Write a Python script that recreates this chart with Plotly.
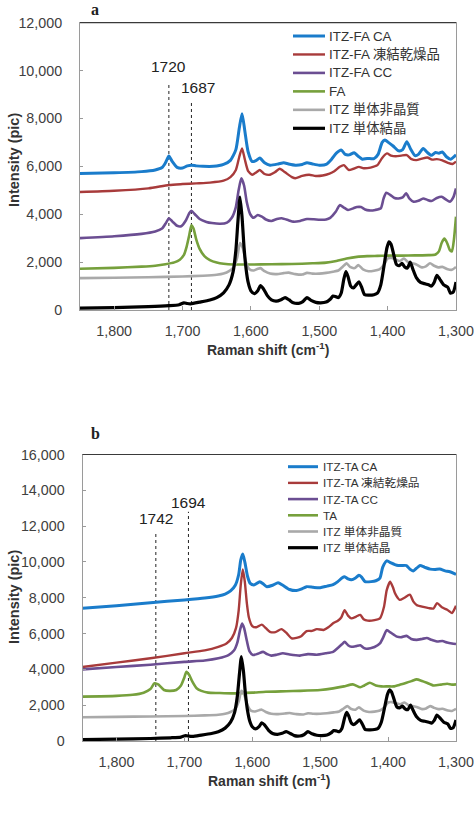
import plotly.graph_objects as go

# ---------------- Panel a data (ITZ-FA) ----------------
fa_ca_x = [1850,1800,1760,1740,1730,1725,1720,1715,1708,1700,1693,1687,1680,1670,1655,1640,1630,1622,1617,1613,
           1609,1604,1598,1592,1587,1580,1572,1560,1552,1545,1535,1525,1518,1510,1500,1490,1482,1475,1468,1462,
           1456,1449,1443,1437,1430,1420,1414,1408,1404,1398,1392,1384,1378,1372,1366,1360,1355,1348,1342,1336,
           1330,1325,1320,1314,1308,1300]
fa_ca_y = [5700,5730,5780,5850,5950,6150,6430,6200,5960,5930,6020,6050,6020,6000,6000,6080,6250,6700,7600,8200,
           7500,6600,6200,6250,6350,6150,6050,6100,6150,6100,6050,6080,6150,6100,6050,6080,6300,6550,6680,6500,
           6480,6570,6420,6300,6330,6320,6500,7000,7100,6980,6850,6650,6700,7030,6700,6450,6500,6750,6580,6460,
           6580,6550,6600,6400,6300,6480]

fa_fd_x = [1850,1800,1750,1720,1700,1680,1660,1640,1630,1622,1617,1613,1609,1604,1598,1592,1587,1580,1572,1565,
           1558,1550,1540,1535,1525,1515,1505,1495,1485,1478,1470,1464,1457,1450,1442,1435,1425,1415,1408,1401,
           1395,1388,1380,1372,1365,1358,1350,1342,1335,1328,1320,1312,1305,1300]
fa_fd_y = [4930,4980,5080,5220,5260,5290,5320,5400,5550,5850,6400,6750,6300,5800,5650,5750,5850,5680,5650,5750,
           5900,5750,5550,5500,5600,5650,5600,5620,5700,5800,5980,6050,5850,5900,5980,5920,5950,6050,6350,6540,
           6450,6420,6450,6470,6300,6260,6320,6370,6280,6300,6250,6150,6100,6200]

fa_cc_x = [1850,1800,1760,1740,1730,1724,1720,1715,1708,1702,1695,1690,1687,1682,1675,1665,1657,1645,1635,1628,
           1622,1618,1614,1610,1606,1601,1596,1590,1584,1578,1570,1562,1555,1545,1538,1528,1518,1508,1499,1490,
           1484,1476,1470,1464,1458,1450,1445,1439,1433,1427,1418,1410,1406,1402,1396,1390,1384,1378,1373,1368,
           1362,1355,1348,1342,1336,1328,1321,1315,1309,1304,1300]
fa_cc_y = [3000,3080,3180,3280,3400,3650,3830,3700,3520,3500,3750,4050,4140,4000,3800,3680,3630,3600,3650,3850,
           4300,5000,5500,5200,4500,4000,3850,3970,3900,3780,3720,3800,3830,3750,3690,3720,3800,3790,3770,3780,
           3850,4100,4380,4280,4180,4250,4300,4300,4200,4160,4180,4250,4650,4900,4800,4680,4660,4700,4870,4650,
           4520,4560,4660,4600,4550,4680,4730,4620,4520,4700,5080]

fa_x = [1850,1800,1760,1740,1725,1712,1704,1698,1694,1690,1687,1684,1680,1675,1668,1660,1650,1640,1625,1600,
        1570,1540,1510,1490,1475,1460,1445,1430,1415,1400,1380,1360,1340,1330,1325,1321,1317,1313,1309,1306,
        1303,1300]
fa_y = [1720,1760,1810,1850,1910,1990,2100,2300,2650,3150,3540,3400,2950,2550,2250,2080,1980,1930,1900,1900,
        1910,1920,1950,1980,2050,2150,2220,2250,2260,2270,2270,2280,2290,2320,2450,2800,2980,2800,2500,2450,
        2950,3900]

# ---------------- ITZ reference spectra (shared by both panels) ----------------
itz_am_x = [1850,1800,1750,1700,1670,1650,1640,1632,1625,1620,1616,1612,1607,1602,1596,1590,1586,1580,1572,1562,
            1552,1545,1535,1525,1518,1510,1500,1490,1480,1472,1466,1460,1455,1448,1443,1436,1428,1420,1412,1405,
            1400,1394,1388,1382,1376,1370,1364,1358,1350,1344,1338,1332,1326,1320,1312,1306,1300]
itz_am_y = [1330,1350,1370,1400,1430,1470,1520,1620,1800,2200,2800,2600,2000,1700,1650,1720,1750,1620,1520,1500,
            1540,1560,1500,1480,1550,1520,1520,1550,1600,1650,1800,1950,1800,1750,1880,1700,1620,1640,1700,1900,
            2150,2170,2100,2050,2150,2000,1950,1900,1780,1820,1950,1850,1780,1800,1700,1680,1800]

itz_cr_x = [1850,1800,1750,1720,1705,1698,1693,1688,1675,1660,1650,1640,1632,1626,1622,1619,1616,1613,1610,1607,
            1604,1600,1595,1590,1586,1582,1576,1570,1563,1556,1550,1544,1538,1530,1524,1518,1512,1505,1498,1490,
            1484,1480,1476,1472,1468,1464,1461,1458,1454,1450,1446,1442,1438,1434,1428,1420,1415,1410,1405,1401,
            1398,1395,1391,1387,1383,1379,1375,1371,1367,1363,1358,1352,1346,1340,1336,1332,1328,1324,1318,1312,
            1308,1304,1300]
itz_cr_y = [80,100,140,180,220,300,270,260,330,420,520,720,1050,1600,2500,3700,4720,3900,2600,1700,
            1150,800,680,800,1020,900,600,420,370,430,520,420,300,280,350,520,400,320,300,330,
            450,580,560,520,700,1300,1600,1400,1000,920,1050,1180,950,650,620,640,700,1050,1900,2600,
            2850,2750,2300,1900,1850,1950,1800,1750,2000,1700,1350,1150,1100,1050,1000,1150,1450,1300,1050,950,
            700,750,1170]

# ---------------- Panel b data (ITZ-TA) ----------------
ta_ca_x = [1850,1800,1750,1700,1670,1650,1640,1632,1625,1620,1617,1614,1611,1607,1603,1597,1589,1584,1579,1570,
           1562,1555,1545,1535,1528,1520,1510,1500,1490,1481,1474,1468,1464,1459,1454,1448,1443,1439,1434,1425,
           1418,1412,1408,1402,1396,1390,1385,1380,1373,1368,1363,1358,1353,1346,1338,1331,1324,1316,1309,1300]
ta_ca_y = [7410,7560,7720,7880,7990,8100,8200,8380,8700,9300,10100,10450,10000,9200,8800,8720,8900,8780,8620,8700,
           8840,8700,8460,8400,8480,8620,8580,8560,8650,8730,8900,9100,9170,9050,9000,9100,9250,9150,8900,8900,
           8950,9100,9700,10060,9950,9850,9800,9800,9800,9600,9500,9650,9800,9700,9600,9580,9600,9500,9450,9300]

ta_fd_x = [1850,1800,1750,1700,1670,1650,1638,1630,1624,1620,1617,1614,1611,1608,1605,1600,1594,1586,1580,1574,
           1566,1557,1550,1542,1535,1528,1520,1512,1505,1495,1488,1481,1474,1469,1464,1459,1454,1447,1441,1436,
           1430,1420,1412,1406,1402,1397,1393,1390,1386,1383,1376,1368,1363,1358,1350,1340,1333,1328,1320,1313,
           1306,1300]
ta_fd_y = [4130,4380,4620,4900,5060,5260,5450,5750,6300,7300,8700,9580,8900,7700,6900,6420,6350,6500,6300,6100,
           6080,6250,6050,5730,5760,5850,6140,6150,6250,6200,6350,6570,6720,6900,7310,7000,6850,6950,7040,6800,
           6720,6750,6850,7500,8430,8890,8600,8260,8000,7880,8000,8170,7800,7600,7500,7420,7400,7700,7450,7330,
           7150,7550]

ta_cc_x = [1850,1800,1750,1700,1670,1650,1635,1627,1622,1618,1615,1612,1608,1604,1599,1592,1584,1578,1572,1564,
           1555,1545,1530,1518,1505,1492,1481,1474,1468,1464,1459,1454,1447,1441,1436,1432,1420,1412,1407,1402,
           1396,1387,1380,1373,1366,1358,1350,1343,1336,1328,1320,1313,1306,1300]
ta_cc_y = [4000,4130,4260,4420,4500,4620,4800,5050,5500,6200,6560,6300,5600,5000,4800,4870,4980,4850,4770,4820,
           4900,4830,4770,4850,4820,4900,4980,5200,5400,5540,5350,5260,5300,5350,5200,5150,5250,5450,5800,6190,
           6050,5830,5800,5870,5700,5650,5700,5750,5650,5560,5580,5500,5450,5420]

ta_x = [1850,1800,1776,1760,1750,1744,1738,1730,1722,1712,1705,1700,1697,1693,1688,1682,1675,1665,1650,1630,
        1600,1580,1550,1530,1500,1481,1465,1452,1441,1435,1427,1418,1410,1400,1392,1382,1373,1365,1358,1350,
        1343,1333,1322,1313,1306,1300]
ta_y = [2480,2520,2580,2700,2900,3220,3150,2850,2800,2850,3100,3550,3870,3700,3300,2950,2800,2700,2680,2660,
        2700,2750,2780,2800,2850,2940,3050,3160,3000,3100,3250,3100,3050,3050,3050,3150,3250,3350,3440,3350,
        3250,3100,3150,3200,3150,3160]

# dashed marker lines: wavenumber, top of the line, height of its label
a_peaks = [1720, 1687]
a_peak_tops = [9450, 8650]
a_label_y = [10150, 9300]
b_peaks = [1742, 1694]
b_peak_tops = [11600, 12800]
b_label_y = [12450, 13300]

a_names = ["ITZ-FA CA", "ITZ-FA 凍結乾燥品", "ITZ-FA CC", "FA", "ITZ 単体非晶質", "ITZ 単体結晶"]
b_names = ["ITZ-TA CA", "ITZ-TA 凍結乾燥品", "ITZ-TA CC", "TA", "ITZ 単体非晶質", "ITZ 単体結晶"]
x_ticks = [1800, 1700, 1600, 1500, 1400, 1300]

colors = ["#1a7ccb", "#a83b3b", "#6b4e92", "#76a03c", "#a9a9a9", "#000000"]
widths = [3.0, 2.4, 2.6, 2.6, 2.6, 3.2]

FONT = "Liberation Sans, Arial, Noto Sans CJK JP, sans-serif"
W, H = 474, 820

fig = go.Figure()

# dashed guide lines
for xa, ya, pk, tops in [("x", "y", a_peaks, a_peak_tops), ("x2", "y2", b_peaks, b_peak_tops)]:
    for p, t in zip(pk, tops):
        fig.add_trace(go.Scatter(x=[p, p], y=[0, t], mode="lines", xaxis=xa, yaxis=ya,
                                 line=dict(color="#222", width=1, dash="3px,3px"),
                                 showlegend=False, hoverinfo="skip"))

a_series = [(fa_ca_x, fa_ca_y), (fa_fd_x, fa_fd_y), (fa_cc_x, fa_cc_y), (fa_x, fa_y),
            (itz_am_x, itz_am_y), (itz_cr_x, itz_cr_y)]
b_series = [(ta_ca_x, ta_ca_y), (ta_fd_x, ta_fd_y), (ta_cc_x, ta_cc_y), (ta_x, ta_y),
            (itz_am_x, itz_am_y), (itz_cr_x, itz_cr_y)]

for xa, ya, series, names in [("x", "y", a_series, a_names), ("x2", "y2", b_series, b_names)]:
    for i, ((xs, ys), nm) in enumerate(zip(series, names)):
        fig.add_trace(go.Scatter(x=xs, y=ys, name=nm, mode="lines", xaxis=xa, yaxis=ya, showlegend=False,
                                 line=dict(color=colors[i], width=widths[i], shape="spline", smoothing=0.6)))

axis_common = dict(showgrid=False, zeroline=False, showline=True, mirror=True, linecolor="#9a9a9a",
                   linewidth=1, ticks="inside", tickcolor="#9a9a9a",
                   tickfont=dict(family=FONT, size=14.3, color="#404040"))

xa_dom = [80 / W, 456 / W]
xb_dom = [82.5 / W, 456 / W]
ya_dom = [1 - 310 / H, 1 - 22.7 / H]
yb_dom = [1 - 741 / H, 1 - 454.5 / H]

fig.update_layout(
    width=W, height=H, margin=dict(l=0, r=0, t=0, b=0, autoexpand=False),
    paper_bgcolor="white", plot_bgcolor="white",
    font=dict(family=FONT, color="#333"),
    showlegend=False,
    xaxis=dict(domain=xa_dom, anchor="y", range=[1850, 1300], tickvals=x_ticks, tickformat=",",
               ticklen=4, ticklabelstandoff=8, **axis_common),
    yaxis=dict(domain=ya_dom, anchor="x", range=[0, 12000], dtick=2000, tickformat=",",
               ticklen=3, ticklabelstandoff=14, **axis_common),
    xaxis2=dict(domain=xb_dom, anchor="y2", range=[1850, 1300], tickvals=x_ticks, tickformat=",",
                ticklen=4, ticklabelstandoff=8, **axis_common),
    yaxis2=dict(domain=yb_dom, anchor="x2", range=[0, 16000], dtick=2000, tickformat=",",
                ticklen=3, ticklabelstandoff=14, **axis_common),
)

ann = []
shapes = []

# darker top border of each plot frame
for xr, yr in [("x domain", "y domain"), ("x2 domain", "y2 domain")]:
    shapes.append(dict(type="line", xref=xr, yref=yr, x0=0, x1=1, y0=1, y1=1,
                       line=dict(color="#3a3a3a", width=1.2)))

# legends drawn as sample lines + text (layout positions in pixels)
legend_specs = [
    (a_names, 293, 325, 327, 36.0, 18.46, 13.4),
    (b_names, 288, 318, 321, 466.7, 16.2, 11.7),
]
for names, lx0, lx1, tx, y0, dy, fs in legend_specs:
    for i, nm in enumerate(names):
        yy = 1 - (y0 + i * dy) / H
        shapes.append(dict(type="line", xref="paper", yref="paper", x0=lx0 / W, x1=lx1 / W, y0=yy, y1=yy,
                           line=dict(color=colors[i], width=widths[i])))
        ann.append(dict(x=tx / W, y=yy, xref="paper", yref="paper", text=nm, showarrow=False,
                        xanchor="left", yanchor="middle",
                        font=dict(family=FONT, size=fs, color="#333")))

for p, ly in zip(a_peaks, a_label_y):
    ann.append(dict(x=p, y=ly, xref="x", yref="y", text=str(p), showarrow=False,
                    xshift=(7 if p == 1687 else 0), font=dict(family=FONT, size=15.5, color="#222")))
for p, ly in zip(b_peaks, b_label_y):
    ann.append(dict(x=p, y=ly, xref="x2", yref="y2", text=str(p), showarrow=False,
                    font=dict(family=FONT, size=15.5, color="#222")))

title_font = dict(family=FONT, size=14, color="#333")
ann += [
    dict(x=268 / W, y=1 - 349 / H, xref="paper", yref="paper", text="<b>Raman shift (cm<sup>-1</sup>)</b>",
         showarrow=False, font=title_font, xanchor="center", yanchor="middle"),
    dict(x=269 / W, y=1 - 780 / H, xref="paper", yref="paper", text="<b>Raman shift (cm<sup>-1</sup>)</b>",
         showarrow=False, font=title_font, xanchor="center", yanchor="middle"),
    dict(x=14 / W, y=1 - 160 / H, xref="paper", yref="paper", text="<b>Intensity (pic)</b>", textangle=-90,
         showarrow=False, font=dict(family=FONT, size=14.5, color="#333"), xanchor="center", yanchor="middle"),
    dict(x=14 / W, y=1 - 597 / H, xref="paper", yref="paper", text="<b>Intensity (pic)</b>", textangle=-90,
         showarrow=False, font=dict(family=FONT, size=14.5, color="#333"), xanchor="center", yanchor="middle"),
    dict(x=95 / W, y=1 - 9 / H, xref="paper", yref="paper", text="<b>a</b>", showarrow=False,
         font=dict(family="Liberation Serif, serif", size=16, color="#222"), xanchor="center", yanchor="middle"),
    dict(x=95 / W, y=1 - 433 / H, xref="paper", yref="paper", text="<b>b</b>", showarrow=False,
         font=dict(family="Liberation Serif, serif", size=16, color="#222"), xanchor="center", yanchor="middle"),
]
fig.update_layout(annotations=ann, shapes=shapes)

fig.write_html("out.html")
